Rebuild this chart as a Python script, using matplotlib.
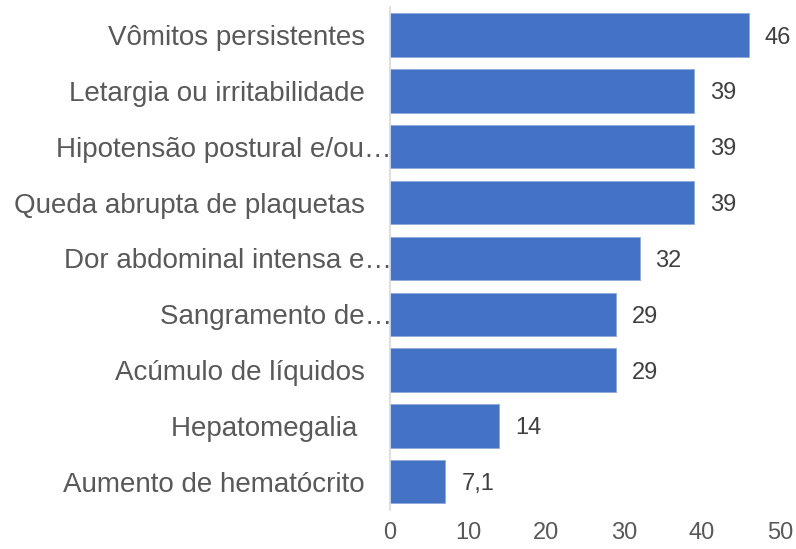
import matplotlib.pyplot as plt
import matplotlib.transforms as mtransforms

plt.rcParams['font.family'] = ['Liberation Sans', 'DejaVu Sans']

categories = [
    "Vômitos persistentes",
    "Letargia ou irritabilidade",
    "Hipotensão postural e/ou…",
    "Queda abrupta de plaquetas",
    "Dor abdominal intensa e…",
    "Sangramento de…",
    "Acúmulo de líquidos",
    "Hepatomegalia ",
    "Aumento de hematócrito",
]
values = [46, 39, 39, 39, 32, 29, 29, 14, 7.1]
xticks = [0, 10, 20, 30, 40, 50]

fig = plt.figure(figsize=(7.96, 5.49), dpi=100, facecolor='white')
ax = fig.add_axes([390 / 796, 1 - 509.7 / 549, 390 / 796, (509.7 - 7.1) / 549])

ypos = list(range(len(categories)))
ax.barh(ypos, values, height=0.775, color='#4472C4', edgecolor='#8faadc', linewidth=0.6)
ax.set_xlim(0, 50)
ax.set_ylim(len(categories) - 0.5, -0.5)

# value labels
for y, v in zip(ypos, values):
    ax.annotate(f"{v:g}".replace('.', ','), (v, y), xytext=(11.5, 0), textcoords='offset points',
                ha='left', va='center_baseline', fontsize=17, color='#404040')

ax.set_yticks(ypos)
ax.set_yticklabels(categories, fontsize=20, color='#595959')
ax.tick_params(axis='y', length=0, pad=18)
ax.set_xticks(xticks)
ax.set_xticklabels([str(t) for t in xticks], fontsize=17, color='#595959')
ax.tick_params(axis='x', length=0, pad=9)

# truncated labels run up to the axis line
for lbl in ax.get_yticklabels():
    if lbl.get_text().endswith('…'):
        lbl.set_transform(lbl.get_transform() + mtransforms.ScaledTranslation(27 / 100, 0, fig.dpi_scale_trans))

for side in ['top', 'right', 'bottom']:
    ax.spines[side].set_visible(False)
ax.spines['left'].set_color('#d9d9d9')
ax.spines['left'].set_linewidth(1.2)

fig.savefig('out.png', dpi=100, facecolor='white')
